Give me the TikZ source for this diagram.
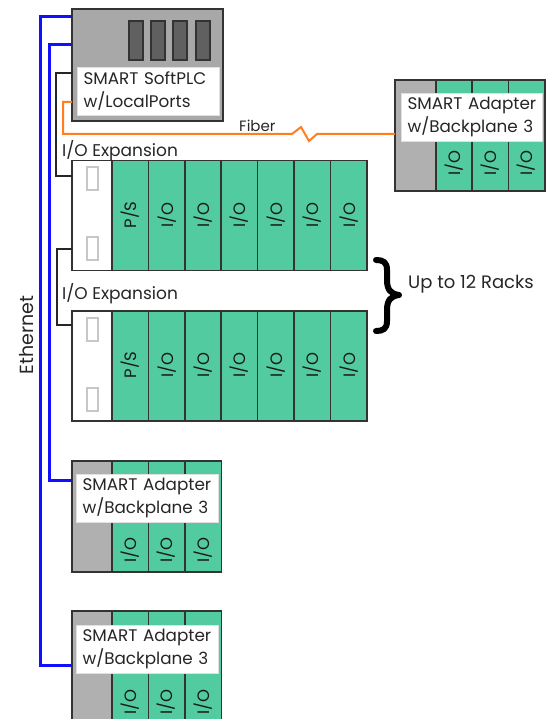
\documentclass[tikz,border=0pt]{standalone}
\usepackage{fontspec}
\setmainfont{Poppins}
\definecolor{modgreen}{HTML}{52CBA0}
\definecolor{basegray}{HTML}{B0B0B0}
\definecolor{plcgray}{HTML}{A8A8A8}
\definecolor{slotgray}{HTML}{606060}
\definecolor{edgegray}{HTML}{333333}
\definecolor{ethblue}{HTML}{1010FF}
\definecolor{fiberorange}{HTML}{FF7F20}
\tikzset{
  unit/.style={draw=edgegray,line width=1.7pt,rectangle,inner sep=0pt,outer sep=0pt,anchor=north west},
  greenmod/.style={unit,fill=modgreen},
  graymod/.style={unit,fill=basegray},
  whitemod/.style={unit,fill=white},
  plcbody/.style={unit,fill=plcgray,line width=2pt},
  plcslot/.style={unit,fill=slotgray,minimum width=14pt,minimum height=39pt},
  portrect/.style={draw=black!22,line width=1.1pt,fill=white,rectangle,inner sep=0pt,outer sep=0pt,anchor=north west,minimum width=11pt,minimum height=23pt},
  lab/.style={fill=white,draw=black!12,line width=.5pt,rectangle,outer sep=0pt,anchor=north west,align=left,inner xsep=6.5pt,inner ysep=0pt,font=\fontsize{16.8}{23}\selectfont,text=black!85},
  modtext/.style={rotate=90,font=\fontsize{16.5}{18}\selectfont,text=black!90,inner sep=0pt},
  plain/.style={font=\fontsize{17}{20}\selectfont,text=black!85,inner sep=0pt},
  eth/.style={draw=ethblue,line width=3pt,line join=miter},
  blackline/.style={draw=black!85,line width=1.8pt},
  fiber/.style={draw=fiberorange,line width=2pt,line join=miter},
}
\begin{document}
\begin{tikzpicture}[x=1pt,y=-1pt]
\useasboundingbox (0,0) rectangle (555,719);
\clip (0,0) rectangle (555,719);
% connector anchors
\coordinate (busAtop) at (40,17);
\coordinate (busAbot) at (40,665);
\coordinate (busBtop) at (49,45);
\coordinate (busBbot) at (49,480);
\coordinate (expA) at (56,73);
\coordinate (expAb) at (56,176);
\coordinate (expB) at (57,249);
\coordinate (expBb) at (57,325);
\coordinate (fibA) at (63,102);
\coordinate (fibB) at (63,134);
\coordinate (z1) at (292,134);
\coordinate (z2) at (301,127);
\coordinate (z3) at (309,141);
\coordinate (z4) at (317,134);
% PLC
\node[plcbody,minimum width=151pt,minimum height=112pt] (plc) at (72,9) {};
\foreach \n/\x in {a/129,b/151,c/173,d/196}
  \node[plcslot] (slot\n) at (\x,21) {};
\node[lab,minimum width=142pt,minimum height=48pt,text width=129pt] (plclab) at (77,67) {SMART~SoftPLC\\w/LocalPorts};
% Rack 1
\node[whitemod,minimum width=40pt,minimum height=110pt] (r1base) at (72,160.5) {};
\node[portrect] (r1pa) at (87,167) {};
\node[portrect] (r1pb) at (87,237) {};
\foreach \n/\x/\t in {1/112/P\slash S,2/148.5/I\slash O,3/185/I\slash O,4/221/I\slash O,5/257.5/I\slash O,6/294/I\slash O,7/330.5/I\slash O}{
  \node[greenmod,minimum width=36.5pt,minimum height=110pt] (r1m\n) at (\x,160.5) {};
  \node[modtext] (r1t\n) at (\x+18.5,215) {\t};
}
% Rack 2
\node[whitemod,minimum width=40pt,minimum height=110pt] (r2base) at (72,311) {};
\node[portrect] (r2pa) at (87,318) {};
\node[portrect] (r2pb) at (87,388) {};
\foreach \n/\x/\t in {1/112/P\slash S,2/148.5/I\slash O,3/185/I\slash O,4/221/I\slash O,5/257.5/I\slash O,6/294/I\slash O,7/330.5/I\slash O}{
  \node[greenmod,minimum width=36.5pt,minimum height=110pt] (r2m\n) at (\x,311) {};
  \node[modtext] (r2t\n) at (\x+18.5,365) {\t};
}
% Right adapter
\node[graymod,minimum width=41pt,minimum height=111pt] (a1base) at (395,80) {};
\foreach \n/\x in {1/436,2/472,3/508.5}{
  \node[greenmod,minimum width=36.5pt,minimum height=111pt] (a1m\n) at (\x,80) {};
  \node[modtext] (a1t\n) at (\x+18,163) {I\slash O};
}
\node[lab,minimum width=141pt,minimum height=48pt,text width=128pt] (a1lab) at (401,93) {SMART~Adapter\\w/Backplane~3};
% Adapter 2
\node[graymod,minimum width=40pt,minimum height=111pt] (a2base) at (72,461) {};
\foreach \n/\x in {1/112,2/148.5,3/185}{
  \node[greenmod,minimum width=36.5pt,minimum height=111pt] (a2m\n) at (\x,461) {};
  \node[modtext] (a2t\n) at (\x+18,550) {I\slash O};
}
\node[lab,minimum width=142pt,minimum height=48pt,text width=129pt] (a2lab) at (76,474) {SMART~Adapter\\w/Backplane~3};
% Adapter 3
\node[graymod,minimum width=40pt,minimum height=111pt] (a3base) at (72,611) {};
\foreach \n/\x in {1/112,2/148.5,3/185}{
  \node[greenmod,minimum width=36.5pt,minimum height=111pt] (a3m\n) at (\x,611) {};
  \node[modtext] (a3t\n) at (\x+18,702) {I\slash O};
}
\node[lab,minimum width=142pt,minimum height=48pt,text width=129pt] (a3lab) at (76,625) {SMART~Adapter\\w/Backplane~3};
% Connectors
\draw[eth] (plc.west |- busAtop) -- (busAtop) -- (busAbot) -- (a3base.west |- busAbot);
\draw[eth] (plc.west |- busBtop) -- (busBtop) -- (busBbot) -- (a2base.west |- busBbot);
\draw[blackline] (plc.west |- expA) -- (expA) -- (expAb) -- (r1base.west |- expAb);
\draw[blackline] (r1base.west |- expB) -- (expB) -- (expBb) -- (r2base.west |- expBb);
\draw[fiber] (plc.west |- fibA) -- (fibA) -- (fibB) -- (z1) -- (z2) -- (z3) -- (z4) -- (a1base.west |- z4);
% Labels
\node[plain,anchor=west] (exp1) at (62,151) {I/O Expansion};
\node[plain,anchor=west] (exp2) at (62,294) {I/O Expansion};
\node[plain,anchor=west,font=\fontsize{15}{18}\selectfont] (fib) at (239,126) {Fiber};
\node[plain,anchor=west,font=\fontsize{18}{20}\selectfont] (racks) at (408,284) {Up to 12 Racks};
\node[plain,rotate=90,font=\fontsize{19}{22}\selectfont] (ethlab) at (27,335) {Ethernet};
% Brace
\draw[black,line width=6pt,line cap=round,line join=round]
  (376,260) .. controls (383,260) and (387,262) .. (387,270)
  -- (387,280) .. controls (387,290) and (391,294) .. (399,295)
  .. controls (391,296) and (387,300) .. (387,310)
  -- (387,321) .. controls (387,329) and (383,331) .. (376,331);
\end{tikzpicture}
\end{document}
